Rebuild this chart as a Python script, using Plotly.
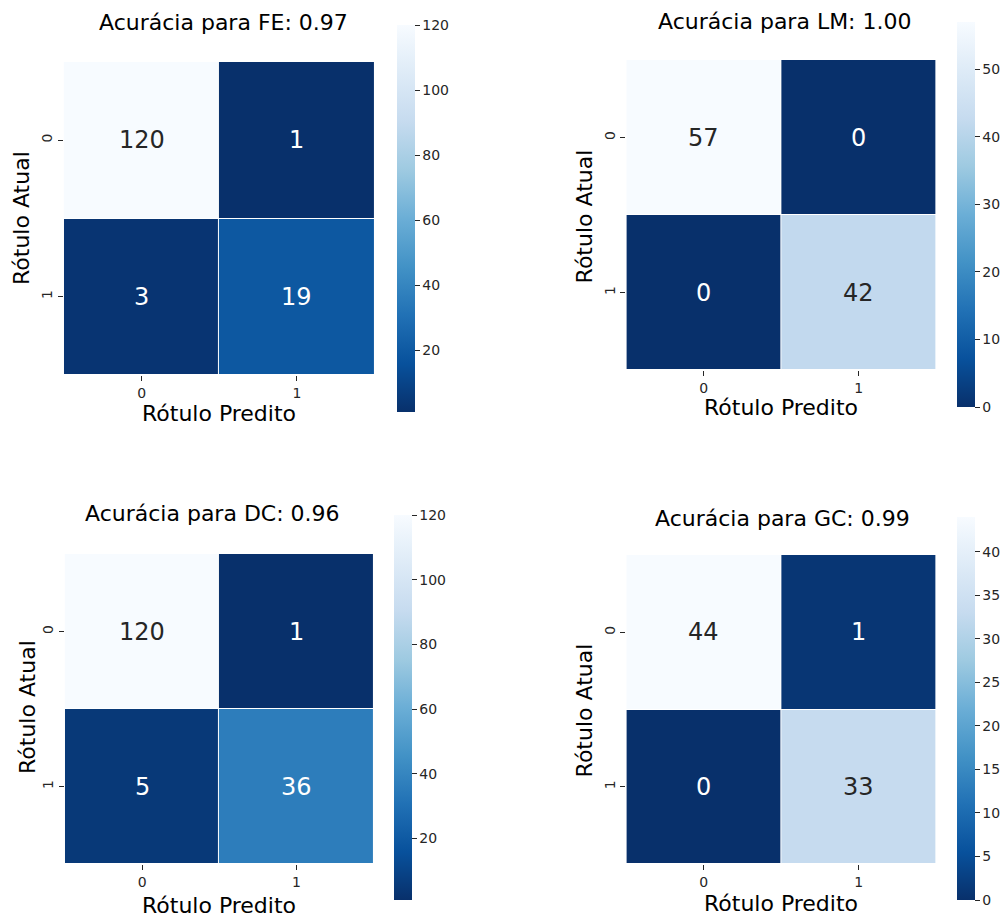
import plotly.graph_objects as go

# Confusion matrices for each model (rows: actual label, cols: predicted label)
labels = ["0", "1"]
models = ["FE", "LM", "DC", "GC"]
accuracies = ["0.97", "1.00", "0.96", "0.99"]
cm_fe = [[120, 1], [3, 19]]
cm_lm = [[57, 0], [0, 42]]
cm_dc = [[120, 1], [5, 36]]
cm_gc = [[44, 1], [0, 33]]
matrices = [cm_fe, cm_lm, cm_dc, cm_gc]

# Colorbar tick values per panel
cbar_ticks = [
    [20, 40, 60, 80, 100, 120],
    [0, 10, 20, 30, 40, 50],
    [20, 40, 60, 80, 100, 120],
    [0, 5, 10, 15, 20, 25, 30, 35, 40],
]

W, H = 1000, 918
FONT = "DejaVu Sans"
TICK_FONT = dict(family=FONT, size=14, color="#262626")

# Pixel layout of each panel: heatmap box, colorbar box, title / label positions
panels = [
    dict(x0=64, x1=375, y0=62, y1=375, cb=(397, 25, 412), title=(224, 23), xl=(219, 413), yl=(22, 218)),
    dict(x0=627, x1=937, y0=60, y1=370, cb=(957, 22, 407), title=(786, 22), xl=(782, 407), yl=(585, 216)),
    dict(x0=65, x1=374, y0=554, y1=864, cb=(394, 515, 900), title=(213, 513), xl=(219, 905), yl=(27, 707)),
    dict(x0=627, x1=937, y0=555, y1=864, cb=(957, 517, 900), title=(783, 518), xl=(782, 903), yl=(585, 710)),
]

fig = go.Figure()
annotations = []

for i, (z, p) in enumerate(zip(matrices, panels)):
    n = i + 1
    xa = "x" if n == 1 else f"x{n}"
    ya = "y" if n == 1 else f"y{n}"
    flat = [v for row in z for v in row]
    zmin, zmax = min(flat), max(flat)
    cbx, cby0, cby1 = p["cb"]
    fig.add_trace(go.Heatmap(
        z=z, x=labels, y=labels,
        colorscale="Blues", reversescale=True,
        zmin=zmin, zmax=zmax,
        xgap=1, ygap=1,
        xaxis=xa, yaxis=ya,
        hoverinfo="z",
        colorbar=dict(
            x=cbx / W, xanchor="left",
            y=1 - (cby0 + cby1) / 2 / H, yanchor="middle",
            len=cby1 - cby0, lenmode="pixels",
            thickness=18, thicknessmode="pixels",
            outlinewidth=0,
            tickvals=cbar_ticks[i],
            ticks="outside", ticklen=5, tickcolor="#262626",
            tickfont=TICK_FONT,
            xpad=0, ypad=0,
        ),
    ))
    sfx = "" if n == 1 else str(n)
    fig.update_layout(**{
        f"xaxis{sfx}": dict(
            domain=[p["x0"] / W, p["x1"] / W], anchor=ya,
            showgrid=False, zeroline=False, showline=False,
            ticks="outside", ticklen=5, tickcolor="#262626",
            tickfont=TICK_FONT,
        ),
        f"yaxis{sfx}": dict(
            domain=[1 - p["y1"] / H, 1 - p["y0"] / H], anchor=xa,
            autorange="reversed",
            showgrid=False, zeroline=False, showline=False,
            ticks="outside", ticklen=5, tickcolor="#262626",
            tickangle=-90,
            tickfont=TICK_FONT,
        ),
    })
    # Cell value labels: dark text on light cells, white on dark cells
    for r, row in enumerate(z):
        for c, v in enumerate(row):
            frac = (v - zmin) / (zmax - zmin) if zmax > zmin else 0
            annotations.append(dict(
                x=labels[c], y=labels[r], xref=xa, yref=ya,
                text=str(v), showarrow=False,
                font=dict(family=FONT, size=24, color="#262626" if frac > 0.5 else "white"),
            ))
    tx, ty = p["title"]
    annotations.append(dict(
        x=tx / W, y=1 - ty / H, xref="paper", yref="paper",
        text=f"Acurácia para {models[i]}: {accuracies[i]}", showarrow=False,
        xanchor="center", yanchor="middle",
        font=dict(family=FONT, size=22, color="black"),
    ))
    lx, ly = p["xl"]
    annotations.append(dict(
        x=lx / W, y=1 - ly / H, xref="paper", yref="paper",
        text="Rótulo Predito", showarrow=False,
        xanchor="center", yanchor="middle",
        font=dict(family=FONT, size=22, color="black"),
    ))
    yx, yy = p["yl"]
    annotations.append(dict(
        x=yx / W, y=1 - yy / H, xref="paper", yref="paper",
        text="Rótulo Atual", showarrow=False, textangle=-90,
        xanchor="center", yanchor="middle",
        font=dict(family=FONT, size=22, color="black"),
    ))

fig.update_layout(
    width=W, height=H,
    margin=dict(l=0, r=0, t=0, b=0),
    paper_bgcolor="white", plot_bgcolor="white",
    annotations=annotations,
    showlegend=False,
)

fig.write_html("out.html")
